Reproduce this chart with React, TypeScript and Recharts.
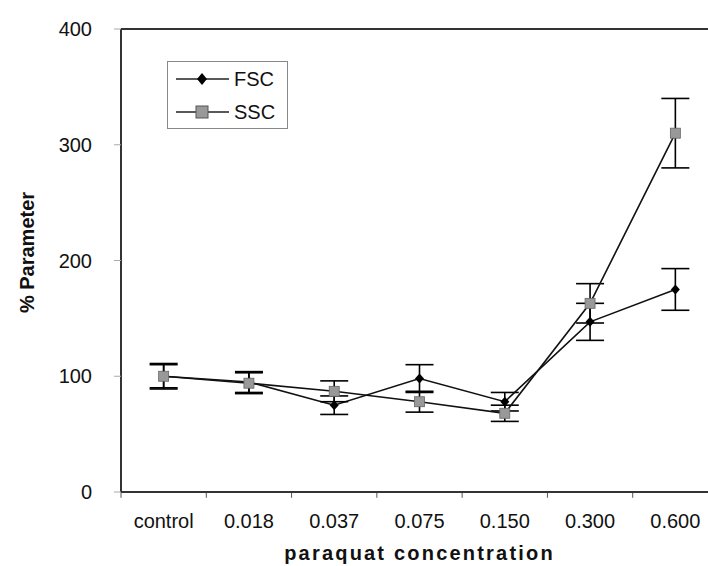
import React from "react";
import {
  LineChart,
  Line,
  XAxis,
  YAxis,
  ErrorBar,
  ReferenceLine,
} from "recharts";

const categories = ["control", "0.018", "0.037", "0.075", "0.150", "0.300", "0.600"];
const fsc = [100, 95, 75, 98, 78, 147, 175];
const fscErr = [10, 9, 8, 12, 8, 16, 18];
const ssc = [100, 94, 87, 78, 68, 163, 310];
const sscErr = [11, 9, 9, 9, 7, 17, 30];
const yTicks = [0, 100, 200, 300, 400];

const FONT = '"Liberation Sans", Arial, sans-serif';

const data = categories.map((name, i) => ({
  x: i + 0.5,
  name,
  fsc: fsc[i],
  fscErr: fscErr[i],
  ssc: ssc[i],
  sscErr: sscErr[i],
}));

// band centres carry the labels, band edges carry the tick marks
const centres = categories.map((_, i) => i + 0.5);
const edges = categories.map((_, i) => i);
const yMax = yTicks[yTicks.length - 1];

function Diamond(props: any) {
  const { cx, cy, index } = props;
  if (cx == null || cy == null) return null;
  return (
    <path
      key={`d-${index}`}
      d={`M${cx},${cy - 5}L${cx + 4.5},${cy}L${cx},${cy + 5}L${cx - 4.5},${cy}Z`}
      fill="#000"
    />
  );
}

function Square(props: any) {
  const { cx, cy, index } = props;
  if (cx == null || cy == null) return null;
  return (
    <rect
      key={`s-${index}`}
      x={cx - 5}
      y={cy - 5}
      width={10}
      height={10}
      fill="#999"
      stroke="#666"
      strokeWidth={0.8}
    />
  );
}

function LegendBox() {
  const rows = [
    { name: "FSC", marker: "diamond" },
    { name: "SSC", marker: "square" },
  ];
  return (
    <div
      style={{
        position: "absolute",
        left: 167,
        top: 61,
        width: 119,
        height: 66,
        border: "1.5px solid #888",
        background: "#fff",
        fontFamily: FONT,
      }}
    >
      <svg width={119} height={66}>
        {rows.map((r, i) => {
          const y = 17 + i * 33;
          return (
            <g key={r.name}>
              <line x1={8} x2={61} y1={y} y2={y} stroke="#222" strokeWidth={1.5} />
              {r.marker === "diamond" ? (
                <path d={`M34,${y - 6}L39,${y}L34,${y + 6}L29,${y}Z`} fill="#000" />
              ) : (
                <rect x={28} y={y - 6} width={12} height={12} fill="#999" stroke="#555" strokeWidth={1} />
              )}
              <text x={66} y={y + 7} fontSize={20} fill="#111" fontFamily={FONT}>
                {r.name}
              </text>
            </g>
          );
        })}
      </svg>
    </div>
  );
}

export default function App() {
  return (
    <div
      style={{
        position: "absolute",
        left: 0,
        top: 0,
        width: 708,
        height: 566,
        overflow: "hidden",
        background: "#fff",
        fontFamily: FONT,
      }}
    >
      <LineChart
        width={708}
        height={566}
        data={data}
        margin={{ top: 29, right: -10, bottom: 0, left: 0 }}
      >
        <XAxis
          dataKey="x"
          type="number"
          domain={[0, categories.length]}
          ticks={centres}
          tickFormatter={(v: number) => categories[Math.floor(v)]}
          tickLine={false}
          tickSize={6}
          tickMargin={16}
          axisLine={{ stroke: "#333", strokeWidth: 2 }}
          tick={{ fontSize: 20, fill: "#111", fontFamily: FONT }}
          interval={0}
          height={74}
          label={{
            value: "paraquat concentration",
            position: "insideBottom",
            offset: 6,
            style: {
              fontSize: 20,
              fontWeight: "bold",
              fill: "#111",
              letterSpacing: 2.2,
              fontFamily: FONT,
            },
          }}
        />
        <YAxis
          type="number"
          domain={[0, yMax]}
          ticks={yTicks}
          width={121}
          tickSize={7}
          tickMargin={22}
          tickLine={{ stroke: "#aaa" }}
          axisLine={{ stroke: "#333", strokeWidth: 2 }}
          tick={{ fontSize: 20, fill: "#111", fontFamily: FONT }}
          label={{
            value: "% Parameter",
            angle: -90,
            position: "insideLeft",
            offset: 27,
            dy: -8,
            style: {
              fontSize: 20,
              fontWeight: "bold",
              fill: "#111",
              textAnchor: "middle",
              fontFamily: FONT,
            },
          }}
        />
        <ReferenceLine
          segment={[
            { x: 0, y: yMax },
            { x: categories.length, y: yMax },
          ]}
          stroke="#333"
          strokeWidth={2}
          ifOverflow="visible"
        />
        {edges.map((e) => (
          <ReferenceLine
            key={`edge-${e}`}
            segment={[
              { x: e, y: 0 },
              { x: e, y: -5 },
            ]}
            stroke="#555"
            strokeWidth={1}
            ifOverflow="visible"
          />
        ))}
        <Line
          dataKey="fsc"
          name="FSC"
          stroke="#111"
          strokeWidth={1.6}
          dot={<Diamond />}
          activeDot={false}
          isAnimationActive={false}
        >
          <ErrorBar dataKey="fscErr" width={14} stroke="#000" strokeWidth={1.6} direction="y" isAnimationActive={false} />
        </Line>
        <Line
          dataKey="ssc"
          name="SSC"
          stroke="#111"
          strokeWidth={1.6}
          dot={<Square />}
          activeDot={false}
          isAnimationActive={false}
        >
          <ErrorBar dataKey="sscErr" width={14} stroke="#000" strokeWidth={1.6} direction="y" isAnimationActive={false} />
        </Line>
      </LineChart>
      <LegendBox />
    </div>
  );
}
